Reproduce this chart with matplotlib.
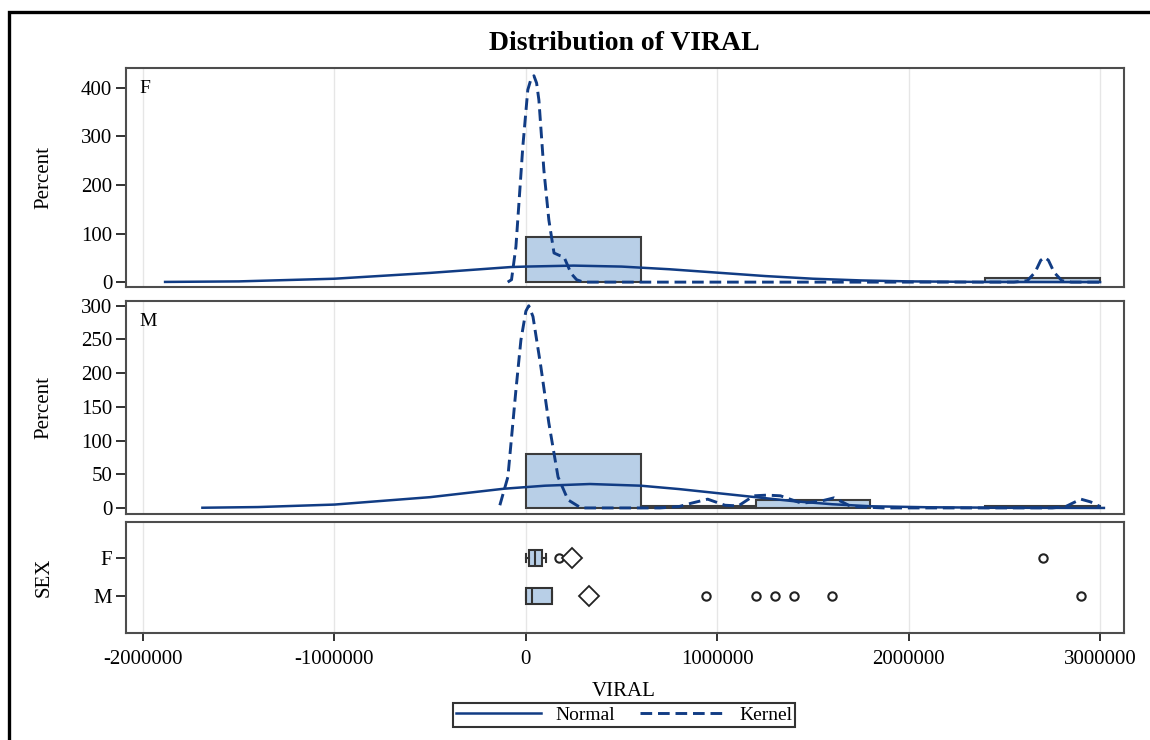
import numpy as np
import matplotlib.pyplot as plt
from matplotlib.lines import Line2D
from matplotlib.patches import Rectangle

plt.rcParams['font.family'] = ['Liberation Serif', 'DejaVu Serif']

####################
# Data
####################

# histogram bins (percent of each sex)
bin_left = [0, 600000, 1200000, 1800000, 2400000]
bin_width = 600000
pct_f = [92.3, 0, 0, 0, 7.7]
pct_m = [80.0, 3.0, 12.0, 0, 3.0]

# fitted normal curve, F
norm_x_f = [-1885000, -1500000, -1000000, -500000, -80000, 0, 250000, 500000,
            750000, 1000000, 1250000, 1500000, 1750000, 2000000, 2400000, 3000000]
norm_y_f = [0.4, 1.5, 7, 19, 31, 32, 34, 32, 26.5, 19.5, 12.5, 7, 3.5, 1.5, 0.3, 0]

# fitted normal curve, M
norm_x_m = [-1690000, -1400000, -1000000, -500000, -115000, 100000, 335000, 600000,
            800000, 1000000, 1200000, 1400000, 1600000, 1800000, 2100000, 2500000, 3020000]
norm_y_m = [0.3, 1.3, 5, 16, 28.5, 33, 35.5, 33, 28, 22, 16, 10, 5.5, 2.5, 1, 0.3, 0]

# kernel density, F
kern_x_f = [-95000, -75000, -52000, -35000, -16000, 10000, 28000, 42000, 56000, 68000,
            94000, 120000, 147000, 175000, 199000, 236000, 265000, 300000, 2550000,
            2620000, 2660000, 2690000, 2710000, 2730000, 2760000, 2800000, 2850000, 3000000]
kern_y_f = [0, 5, 73, 170, 279, 396, 420, 425, 410, 375, 231, 128, 60, 55, 52, 18, 5, 0,
            0, 3, 20, 45, 51, 45, 20, 3, 0, 0]

# kernel density, M
kern_x_m = [-136000, -94000, -52000, -26000, 0, 15000, 37000, 78000, 120000, 168000,
            220000, 288000, 700000, 800000, 864000, 950000, 1040000, 1110000, 1190000,
            1260000, 1330000, 1440000, 1540000, 1610000, 1700000, 1870000, 2750000,
            2820000, 2870000, 2900000, 2950000, 3000000]
kern_y_m = [4, 46, 175, 249, 292, 300, 284, 210, 126, 46, 12, 0, 0, 2, 7, 13, 4, 3, 18,
            19, 18, 7, 10, 15, 2, 0, 0, 2, 9, 13, 9, 2]

# box plot summary
box_labels = ['F', 'M']
box_q1 = [18000, 0]
box_med = [47000, 30000]
box_q3 = [85000, 134000]
box_wlo = [0, 0]
box_whi = [103000, 134000]
box_mean = [240000, 330000]
box_out = [[175000, 2700000],
           [940000, 1200000, 1300000, 1400000, 1600000, 2900000]]

x_ticks = [-2000000, -1000000, 0, 1000000, 2000000, 3000000]

####################
# Style
####################

navy = '#113c84'
bar_fill = '#b8cfe7'
bar_edge = '#3c3c3c'
grid_col = '#e6e6e6'
spine_col = '#4d4d4d'
xlim = (-2089000, 3125000)
fs = 15


def style_axes(ax):
    for s in ax.spines.values():
        s.set_color(spine_col)
        s.set_linewidth(1.5)
    ax.set_xlim(*xlim)
    ax.set_xticks(x_ticks)
    ax.grid(axis='x', color=grid_col, lw=1)
    ax.set_axisbelow(True)
    ax.tick_params(axis='y', length=7, width=1.3, color='#222222', pad=3, labelsize=fs)
    ax.tick_params(axis='x', length=6, width=1.3, color='#222222', pad=6, labelsize=fs)


def draw_hist_panel(ax, pct, nx, ny, kx, ky, label):
    style_axes(ax)
    lefts = [l for l, p in zip(bin_left, pct) if p > 0]
    heights = [p for p in pct if p > 0]
    ax.bar(lefts, heights, width=bin_width, align='edge', color=bar_fill,
           edgecolor=bar_edge, linewidth=1.5, zorder=2)
    ax.plot(nx, ny, color=navy, lw=1.8, zorder=3)
    ax.plot(kx, ky, color=navy, lw=2.1, ls=(0, (4, 2)), zorder=3)
    ax.tick_params(axis='x', bottom=False, labelbottom=False)
    ax.set_ylabel('Percent', fontsize=fs)
    ax.yaxis.set_label_coords(-0.073, 0.5)
    ax.text(0.013, 0.906, label, transform=ax.transAxes, fontsize=14, va='center', ha='left')


####################
# Figure
####################

fig = plt.figure(figsize=(11.5, 7.4), dpi=100)

ax1 = fig.add_axes([0.1096, 0.6122, 0.8678, 0.2959])
ax2 = fig.add_axes([0.1096, 0.3054, 0.8678, 0.2878])
ax3 = fig.add_axes([0.1096, 0.1446, 0.8678, 0.1500])

draw_hist_panel(ax1, pct_f, norm_x_f, norm_y_f, kern_x_f, kern_y_f, 'F')
ax1.set_ylim(-10, 441)
ax1.set_yticks([0, 100, 200, 300, 400])

draw_hist_panel(ax2, pct_m, norm_x_m, norm_y_m, kern_x_m, kern_y_m, 'M')
ax2.set_ylim(-9, 307)
ax2.set_yticks([0, 50, 100, 150, 200, 250, 300])

# box plot panel
style_axes(ax3)
pos = [1, 2]
stats = []
for i in range(len(box_labels)):
    stats.append(dict(med=box_med[i], q1=box_q1[i], q3=box_q3[i], whislo=box_wlo[i],
                      whishi=box_whi[i], fliers=box_out[i], label=box_labels[i]))
ax3.bxp(stats, positions=pos, widths=0.42, orientation='horizontal', patch_artist=True,
        capwidths=0.2,
        boxprops=dict(facecolor=bar_fill, edgecolor='#333333', linewidth=1.5),
        medianprops=dict(color='#333333', linewidth=1.5),
        whiskerprops=dict(color='#333333', linewidth=1.5),
        capprops=dict(color='#333333', linewidth=1.5),
        flierprops=dict(marker='o', markerfacecolor='white', markeredgecolor='#222222',
                        markersize=6, markeredgewidth=1.5))
ax3.plot(box_mean, pos, ls='none', marker='D', ms=10, mfc='white', mec='#222222', mew=1.3,
         zorder=4)
ax3.set_ylim(2.97, 0.05)
ax3.set_yticks(pos)
ax3.set_yticklabels(box_labels)
ax3.set_xticks(x_ticks)
ax3.set_xticklabels([str(v) for v in x_ticks])
ax3.set_ylabel('SEX', fontsize=fs)
ax3.yaxis.set_label_coords(-0.073, 0.5)
ax3.set_xlabel('VIRAL', fontsize=fs)
ax3.xaxis.set_label_coords(0.499, -0.44)

fig.suptitle('Distribution of VIRAL', x=0.543, y=1 - 44 / 740, va='center',
             fontsize=20, fontweight='bold')

# legend
handles = [Line2D([], [], color=navy, lw=1.8),
           Line2D([], [], color=navy, lw=2.1, ls=(0, (4, 2)))]
leg = fig.legend(handles, ['Normal', 'Kernel'], loc='center', ncol=2,
                 bbox_to_anchor=(624 / 1150, 1 - 715 / 740), fontsize=14,
                 frameon=True, fancybox=False, handlelength=4.4, columnspacing=1.3,
                 borderpad=0.15, handletextpad=0.7, borderaxespad=0)
leg.get_frame().set_edgecolor('black')
leg.get_frame().set_linewidth(1.5)

# outer frame
fig.add_artist(Rectangle((9 / 1150, -0.1), 2, 1 - 12.5 / 740 + 0.1, fill=False,
                         edgecolor='black', lw=2.4, transform=fig.transFigure,
                         clip_on=False))

fig.savefig('out.png', dpi=100)
